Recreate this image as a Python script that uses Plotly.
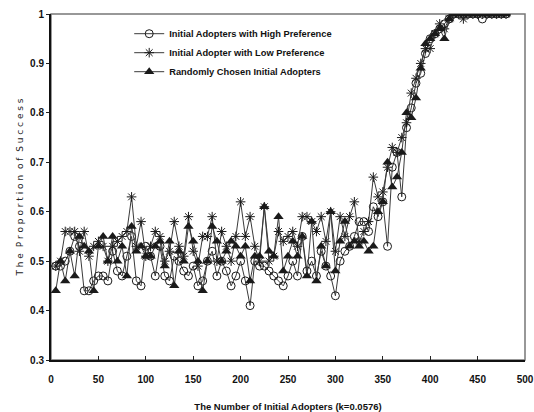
import plotly.graph_objects as go

# Number of initial adopters (x) and proportion of successful runs for each seeding strategy
adopters = list(range(5, 485, 5))

high_pref = [
    0.49, 0.49, 0.50, 0.52, 0.55, 0.53, 0.44, 0.44, 0.46, 0.47,
    0.47, 0.46, 0.52, 0.48, 0.47, 0.51, 0.55, 0.46, 0.45, 0.53,
    0.51, 0.47, 0.53, 0.47, 0.46, 0.51, 0.50, 0.48, 0.47, 0.49,
    0.45, 0.46, 0.50, 0.52, 0.47, 0.50, 0.48, 0.45, 0.47, 0.50,
    0.46, 0.41, 0.50, 0.49, 0.49, 0.48, 0.47, 0.46, 0.45, 0.47,
    0.50, 0.47, 0.55, 0.48, 0.50, 0.47, 0.52, 0.49, 0.47, 0.43,
    0.50, 0.52, 0.53, 0.55, 0.58, 0.58, 0.56, 0.61, 0.59, 0.62,
    0.53, 0.69, 0.72, 0.63, 0.77, 0.81, 0.86, 0.88, 0.92, 0.95,
    0.96, 0.97, 0.98, 0.99, 1.00, 1.00, 1.00, 1.00, 1.00, 1.00,
    0.99, 1.00, 1.00, 1.00, 1.00, 1.00,
]

low_pref = [
    0.49, 0.50, 0.56, 0.56, 0.56, 0.52, 0.56, 0.51, 0.53, 0.54,
    0.53, 0.50, 0.53, 0.54, 0.55, 0.56, 0.63, 0.53, 0.58, 0.51,
    0.53, 0.56, 0.55, 0.50, 0.52, 0.58, 0.53, 0.51, 0.59, 0.52,
    0.49, 0.55, 0.55, 0.59, 0.50, 0.56, 0.53, 0.50, 0.55, 0.62,
    0.55, 0.59, 0.53, 0.50, 0.61, 0.50, 0.51, 0.56, 0.54, 0.55,
    0.56, 0.53, 0.59, 0.59, 0.58, 0.56, 0.59, 0.54, 0.60, 0.52,
    0.59, 0.55, 0.59, 0.62, 0.54, 0.56, 0.58, 0.67, 0.63, 0.64,
    0.69, 0.73, 0.72, 0.75, 0.78, 0.84, 0.87, 0.90, 0.93, 0.93,
    0.96, 0.98, 0.97, 0.99, 1.00, 1.00, 0.99, 1.00, 1.00, 1.00,
    1.00, 1.00, 1.00, 1.00, 1.00, 1.00,
]

random_pick = [
    0.44, 0.50, 0.46, 0.52, 0.47, 0.55, 0.53, 0.52, 0.44, 0.53,
    0.55, 0.50, 0.55, 0.50, 0.53, 0.47, 0.57, 0.52, 0.53, 0.51,
    0.51, 0.53, 0.54, 0.49, 0.54, 0.45, 0.52, 0.50, 0.57, 0.54,
    0.50, 0.44, 0.50, 0.57, 0.54, 0.50, 0.52, 0.54, 0.53, 0.51,
    0.53, 0.46, 0.51, 0.51, 0.61, 0.52, 0.51, 0.59, 0.48, 0.51,
    0.54, 0.51, 0.55, 0.47, 0.58, 0.46, 0.53, 0.49, 0.60, 0.48,
    0.54, 0.58, 0.53, 0.54, 0.53, 0.54, 0.52, 0.53, 0.60, 0.62,
    0.70, 0.65, 0.67, 0.72, 0.80, 0.79, 0.83, 0.89, 0.94, 0.95,
    0.96, 0.97, 0.95, 0.99, 1.00, 1.00, 1.00, 1.00, 1.00, 1.00,
    1.00, 1.00, 1.00, 1.00, 1.00, 1.00,
]

series_names = [
    "Initial Adopters with High Preference",
    "Initial Adopter with Low Preference",
    "Randomly Chosen Initial Adopters",
]

x_ticks = [0, 50, 100, 150, 200, 250, 300, 350, 400, 450, 500]
y_ticks = [0.3, 0.4, 0.5, 0.6, 0.7, 0.8, 0.9, 1.0]
y_tick_text = ["0.3", "0.4", "0.5", "0.6", "0.7", "0.8", "0.9", "1"]

LINE = "#3a3a3a"
INK = "#1a1a1a"

fig = go.Figure()
fig.add_trace(go.Scatter(
    x=adopters, y=high_pref, name=series_names[0], mode="lines+markers",
    line=dict(color=LINE, width=1),
    marker=dict(symbol="circle-open", size=8, color=INK, line=dict(width=1)),
))
fig.add_trace(go.Scatter(
    x=adopters, y=low_pref, name=series_names[1], mode="lines+markers",
    line=dict(color=LINE, width=1),
    marker=dict(symbol="asterisk-open", size=8, color=INK, line=dict(width=1, color=INK)),
))
fig.add_trace(go.Scatter(
    x=adopters, y=random_pick, name=series_names[2], mode="lines+markers",
    line=dict(color=LINE, width=1),
    marker=dict(symbol="triangle-up", size=9, color=INK),
))

# light frame on the top and right sides of the plotting area
fig.add_shape(type="rect", xref="paper", yref="paper", x0=0, x1=1, y0=0, y1=1,
              line=dict(color="#777777", width=1.5), layer="below")

fig.update_layout(
    width=534, height=412,
    margin=dict(l=51, r=9, t=14, b=52),
    paper_bgcolor="white", plot_bgcolor="white",
    font=dict(family="Liberation Sans, Arial, sans-serif", size=10, color="#111111"),
    showlegend=True,
    legend=dict(
        x=0.165, y=0.985, xanchor="left", yanchor="top",
        bgcolor="rgba(0,0,0,0)", itemwidth=30, tracegroupgap=0,
        font=dict(family="Liberation Sans, Arial, sans-serif", size=9.3, weight="bold"),
    ),
    xaxis=dict(
        range=[0, 500], tickvals=x_ticks, ticks="inside", ticklen=4, tickwidth=1,
        tickcolor="#222", showgrid=False, zeroline=False, automargin=False,
        showline=True, linecolor="#111111", linewidth=2,
        tickfont=dict(size=10, weight="bold"), ticklabelstandoff=9,
        title=dict(text="The Number of Initial Adopters (k=0.0576)",
                   font=dict(size=9.5, weight="bold"), standoff=20),
    ),
    yaxis=dict(
        range=[0.3, 1.0], tickvals=y_ticks, ticktext=y_tick_text,
        ticks="outside", ticklen=3, tickwidth=1, tickcolor="#222",
        showgrid=False, zeroline=False, automargin=False,
        showline=True, linecolor="#111111", linewidth=2,
        tickfont=dict(size=10, weight="bold"),
        title=dict(text="T h e  P r o p o r t i o n  o f  S u c c e s s",
                   font=dict(family="DejaVu Sans, sans-serif", size=9, color="#222222"),
                   standoff=5),
    ),
)

fig.write_html("out.html")
